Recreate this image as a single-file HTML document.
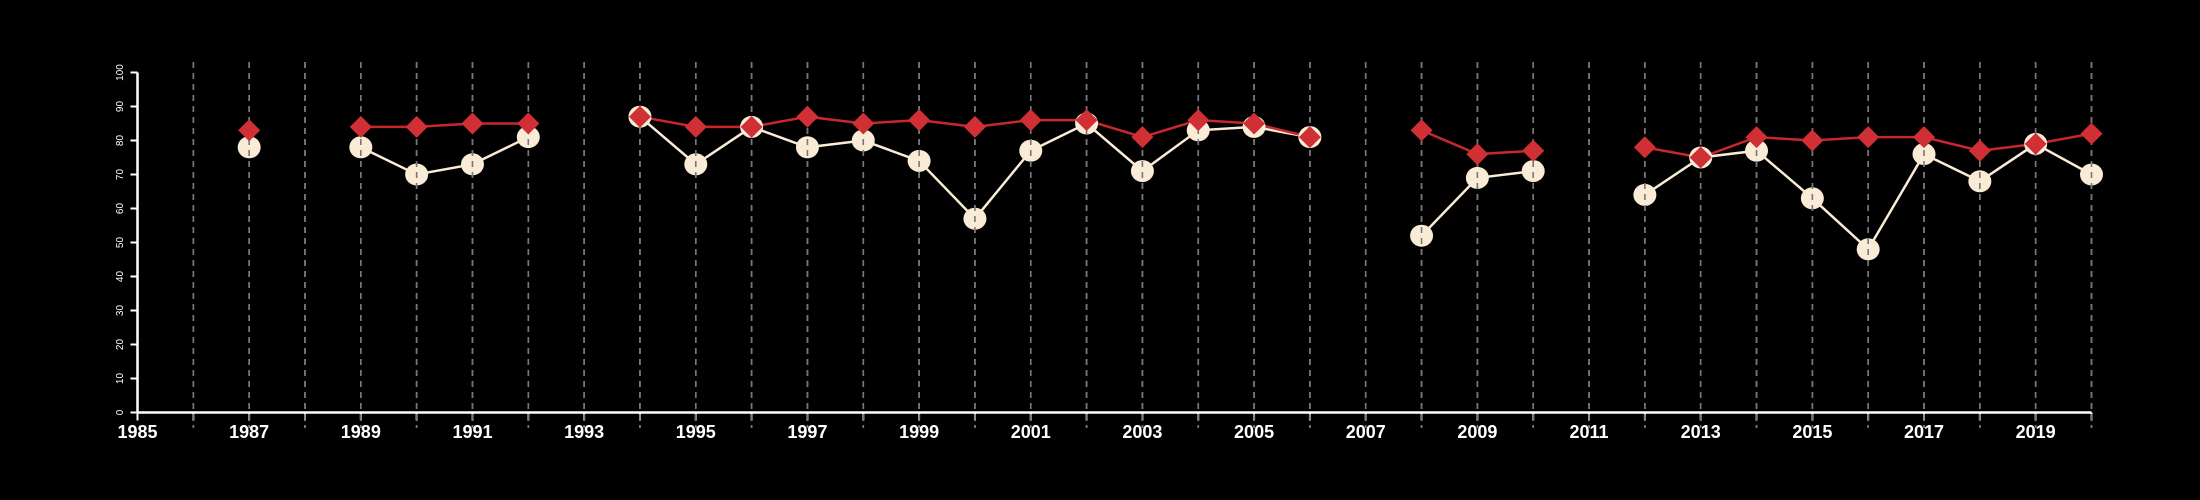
<!DOCTYPE html>
<html><head><meta charset="utf-8"><style>
html,body{margin:0;padding:0;background:#000;}
svg{display:block;}
</style></head><body>
<svg id="chart" width="2200" height="500" viewBox="0 0 2200 500" xmlns="http://www.w3.org/2000/svg">
<rect width="2200" height="500" fill="#000"/>
<g id="grid"></g>
<g id="axes"></g>
<g id="series"></g>
</svg>
<script>
const years = [1987,1988,1989,1990,1991,1992,1993,1994,1995,1996,1997,1998,1999,2000,2001,2002,2003,2004,2005,2006,2007,2008,2009,2010,2011,2012,2013,2014,2015,2016,2017,2018,2019,2020];
const whiteValues = [78,null,78,70,73,81,null,87,73,84,78,80,74,57,77,85,71,83,84,81,null,52,69,71,null,64,75,77,63,48,76,68,79,70];
const redValues = [83,null,84,84,85,85,null,87,84,84,87,85,86,84,86,86,81,86,85,81,null,83,76,77,null,78,75,81,80,81,81,77,79,82];
const yTicks = [0,10,20,30,40,50,60,70,80,90,100];
const xTickLabels = [1985,1987,1989,1991,1993,1995,1997,1999,2001,2003,2005,2007,2009,2011,2013,2015,2017,2019];

const NS = "http://www.w3.org/2000/svg";
const X0 = 137.5, X1 = 2091.5, Y0 = 412.5, Y1 = 72.5;
const xScale = y => X0 + (y - 1985) / 35 * (X1 - X0);
const yScale = v => Y0 - v / 100 * (Y0 - Y1);
function mk(tag, attrs, parent){const e=document.createElementNS(NS,tag);for(const k in attrs)e.setAttribute(k,attrs[k]);parent.appendChild(e);return e;}
const grid=document.getElementById('grid'), axes=document.getElementById('axes'), series=document.getElementById('series');

// gridlines
for(let y=1986;y<=2020;y++){
  const l=mk('line',{x1:xScale(y),x2:xScale(y),y1:62,y2:428,stroke:'#888','stroke-width':1.6,'stroke-dasharray':'6,5'},grid);
  
  
}
// x axis
const xa=mk('line',{x1:X0,x2:X1,y1:Y0,y2:Y0,stroke:'#fff','stroke-width':2.5},axes);


for(let y=1985;y<=2020;y++){
  const t=mk('line',{x1:xScale(y),x2:xScale(y),y1:Y0,y2:Y0+8,stroke:'#fff','stroke-width':2},axes);
  
  
}
xTickLabels.forEach(y=>{
  const t=mk('text',{x:xScale(y),y:438,fill:'#fff','font-family':'Liberation Sans, sans-serif','font-size':18,'font-weight':'bold','text-anchor':'middle'},axes);
  t.textContent=y;
  
  
});
// y axis
const ya=mk('line',{x1:X0,x2:X0,y1:Y0,y2:Y1,stroke:'#fff','stroke-width':2.5},axes);


yTicks.forEach(v=>{
  const t=mk('line',{x1:X0-7,x2:X0,y1:yScale(v),y2:yScale(v),stroke:'#fff','stroke-width':2},axes);
  
  
  const tx=mk('text',{x:0,y:0,fill:'#fff','font-family':'Liberation Sans, sans-serif','font-size':10,'text-anchor':'middle',transform:`translate(123,${yScale(v)}) rotate(-90)`},axes);
  tx.textContent=v;
  
  
});
// lines
function drawLine(vals,color,w,name){
  let seg=[];
  const flush=()=>{ if(seg.length>1){const p=mk('polyline',{points:seg.join(' '),fill:'none',stroke:color,'stroke-width':w},series);
    
    } seg=[]; };
  vals.forEach((v,i)=>{ if(v==null) flush(); else seg.push(xScale(years[i])+','+yScale(v)); });
  flush();
}
drawLine(whiteValues,'#faebd7',2.5,'white-series-line');
drawLine(redValues,'#c8282d',2.5,'red-series-line');
// markers
whiteValues.forEach((v,i)=>{ if(v==null) return;
  const c=mk('ellipse',{cx:xScale(years[i]),cy:yScale(v),rx:11.5,ry:11,fill:'#faebd7'},series);
  
  
});
// overlay dashes through markers
for(let y=1986;y<=2020;y++){
  const l=mk('line',{x1:xScale(y),x2:xScale(y),y1:62,y2:428,stroke:'#777','stroke-width':1.6,'stroke-dasharray':'6,5'},series);
  
  
}
redValues.forEach((v,i)=>{ if(v==null) return;
  const x=xScale(years[i]), y=yScale(v), r=11;
  const d=mk('polygon',{points:`${x},${y-r} ${x+r},${y} ${x},${y+r} ${x-r},${y}`,fill:'#d03035'},series);
  
  
});
</script>
</body></html>
